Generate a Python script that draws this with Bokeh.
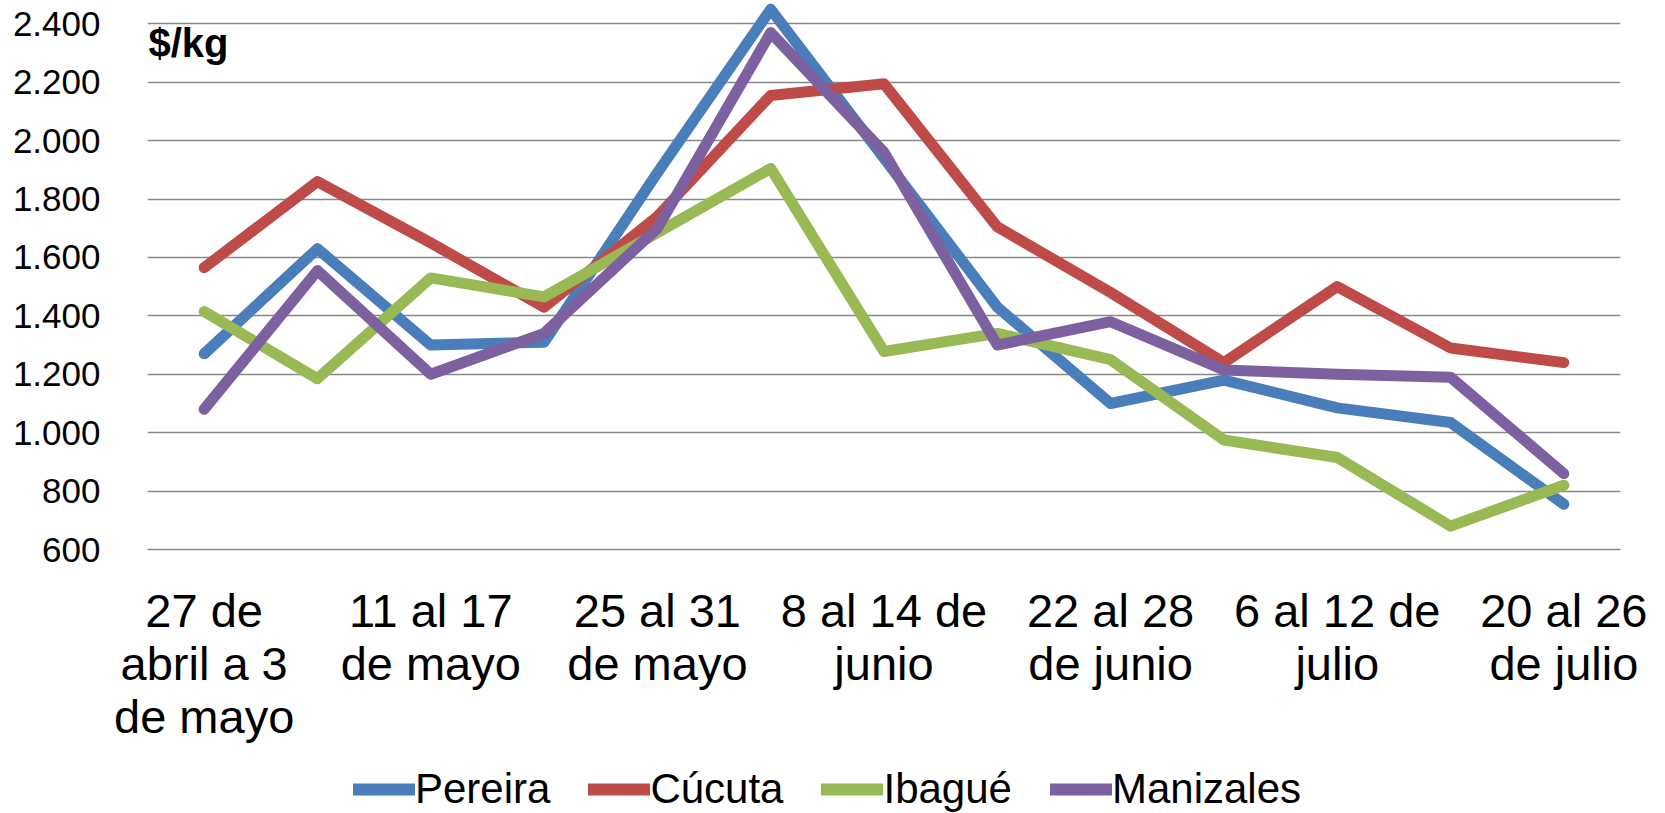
from bokeh.plotting import figure
from bokeh.models import Range1d, FixedTicker, Legend, LegendItem, Label
from bokeh.layouts import column
from bokeh.embed import file_html
from bokeh.resources import INLINE

weeks = ["27 de abril a 3 de mayo", "4 al 10 de mayo", "11 al 17 de mayo", "18 al 24 de mayo",
         "25 al 31 de mayo", "1 al 7 de junio", "8 al 14 de junio", "15 al 21 de junio",
         "22 al 28 de junio", "29 de junio al 5 de julio", "6 al 12 de julio",
         "13 al 19 de julio", "20 al 26 de julio"]
week_tick_labels = ["27 de\nabril a 3\nde mayo", "", "11 al 17\nde mayo", "", "25 al 31\nde mayo", "",
                    "8 al 14 de\njunio", "", "22 al 28\nde junio", "", "6 al 12 de\njulio", "",
                    "20 al 26\nde julio"]

series_names = ["Pereira", "Cúcuta", "Ibagué", "Manizales"]
pereira = [1270, 1630, 1300, 1310, 1890, 2450, 1940, 1430, 1100, 1180, 1085, 1035, 755]
cucuta = [1565, 1860, 1650, 1430, 1740, 2155, 2195, 1705, 1480, 1240, 1500, 1290, 1240]
ibague = [1415, 1185, 1530, 1465, 1685, 1905, 1278, 1340, 1250, 975, 915, 680, 820]
manizales = [1080, 1555, 1200, 1340, 1700, 2370, 1960, 1300, 1380, 1215, 1200, 1190, 860]
colors = ["#4A7EBB", "#BE4B48", "#98B954", "#7D60A0"]

y_ticks = [600, 800, 1000, 1200, 1400, 1600, 1800, 2000, 2200, 2400]
y_tick_labels = ["600", "800", "1.000", "1.200", "1.400", "1.600", "1.800", "2.000", "2.200", "2.400"]
unit_label = "$/kg"

FONT = "Liberation Sans"
LW = 11

week_pos = list(range(len(weeks)))  # position of each week on the category axis

p = figure(width=1665, height=750, output_backend="svg", toolbar_location=None,
           x_range=Range1d(-0.5, len(weeks) - 0.5), y_range=Range1d(600, 2480),
           min_border_left=147, min_border_right=45, min_border_top=0, min_border_bottom=201)
p.outline_line_color = None
p.background_fill_color = "white"

for vals, col in zip([pereira, cucuta, ibague, manizales], colors):
    p.line(week_pos, vals, line_color=col, line_width=LW, line_cap="round", line_join="round")

# y axis
p.yaxis.ticker = FixedTicker(ticks=y_ticks)
p.yaxis.major_label_overrides = dict(zip(y_ticks, y_tick_labels))
p.yaxis.axis_line_color = None
p.yaxis.major_tick_line_color = None
p.yaxis.minor_tick_line_color = None
p.yaxis.major_tick_out = 0
p.yaxis.major_label_standoff = 47
p.yaxis.major_label_text_font = FONT
p.yaxis.major_label_text_font_size = "35px"
p.yaxis.major_label_text_color = "black"

# x axis
shown = [i for i, t in enumerate(week_tick_labels) if t]
p.xaxis.ticker = FixedTicker(ticks=shown)
p.xaxis.major_label_overrides = {i: week_tick_labels[i] for i in shown}
p.xaxis.axis_line_color = "#888888"
p.xaxis.axis_line_width = 1.3
p.xaxis.major_tick_line_color = None
p.xaxis.minor_tick_line_color = None
p.xaxis.major_tick_out = 0
p.xaxis.major_label_standoff = 34
p.xaxis.major_label_text_font = FONT
p.xaxis.major_label_text_font_size = "47px"
p.xaxis.major_label_text_color = "black"
p.xaxis.major_label_text_line_height = 1.0
p.xaxis.major_label_orientation = "horizontal"

p.xgrid.grid_line_color = None
p.ygrid.grid_line_color = "#888888"
p.ygrid.grid_line_width = 1.3

p.add_layout(Label(x=-0.5, y=2333, x_units="data", y_units="data", text=unit_label,
                   text_font=FONT, text_font_style="bold", text_font_size="40px",
                   text_color="black", text_baseline="alphabetic", text_align="left", x_offset=1))

# legend strip (frame aligned with the chart frame by the column layout)
pl = figure(width=1665, height=63, output_backend="svg", toolbar_location=None,
            x_range=Range1d(0, 1), y_range=Range1d(0, 1),
            x_axis_location=None, y_axis_location=None,
            min_border_left=0, min_border_right=0, min_border_top=0, min_border_bottom=0)
pl.outline_line_color = None
pl.xgrid.grid_line_color = None
pl.ygrid.grid_line_color = None
nan = float("nan")
leg_renderers = [pl.line([nan], [nan], line_color=c, line_width=12, line_cap="round") for c in colors]
legend = Legend(items=[LegendItem(label=n, renderers=[r]) for n, r in zip(series_names, leg_renderers)],
                orientation="horizontal", location=(206, 0),
                label_text_font=FONT, label_text_font_size="42px", label_text_color="black",
                glyph_width=62, glyph_height=42, label_height=42, label_standoff=0,
                spacing=38, padding=0, margin=0, border_line_color=None,
                background_fill_alpha=0)
pl.add_layout(legend, "center")

layout = column(p, pl, spacing=0)
open("out.html", "w").write(file_html(layout, INLINE))
